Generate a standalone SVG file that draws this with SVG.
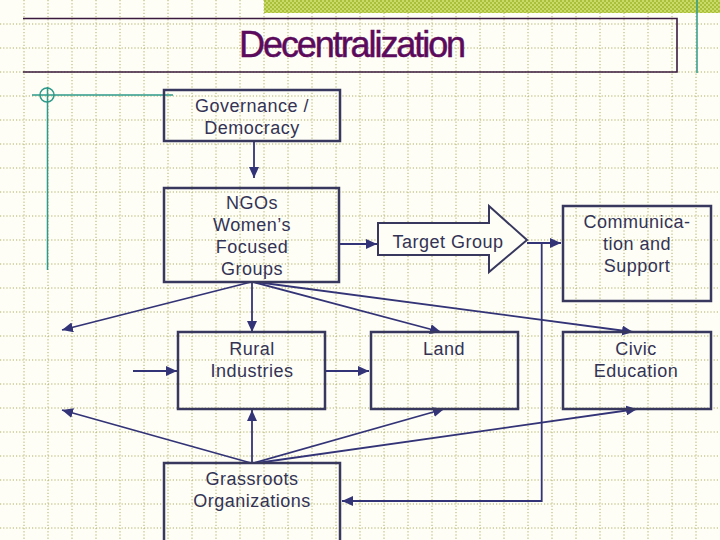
<svg xmlns="http://www.w3.org/2000/svg" width="720" height="540" viewBox="0 0 720 540">
<defs>
<pattern id="check" width="4" height="4" patternUnits="userSpaceOnUse">
<rect width="4" height="4" fill="#c9d96a"/>
<rect width="2" height="2" fill="#a9c038"/>
<rect x="2" y="2" width="2" height="2" fill="#a9c038"/>
</pattern>
<marker id="ah" markerUnits="userSpaceOnUse" markerWidth="11" markerHeight="10" refX="11" refY="5" orient="auto">
<path d="M0,0 L11,5 L0,10 z" fill="#333377"/>
</marker>
<style>
.grid{fill:none;stroke:#b0ae66;stroke-width:1;stroke-dasharray:1.2 2}
.box{fill:none;stroke:#38385f;stroke-width:2.5}
.lbl{font-family:"Liberation Sans",Arial,sans-serif;font-size:18px;letter-spacing:0.5px;fill:#333355;text-anchor:middle}
.con{fill:none;stroke:#333377;stroke-width:1.8}
.teal{fill:none;stroke:#2e9a8a;stroke-width:1.5}
</style>
</defs>
<rect width="720" height="540" fill="#fefef6"/>
<path class="grid" d="M24 0V540M48 0V540M72 0V540M96 0V540M120 0V540M144 0V540M168 0V540M192 0V540M216 0V540M240 0V540M264 0V540M288 0V540M312 0V540M336 0V540M360 0V540M384 0V540M408 0V540M432 0V540M456 0V540M480 0V540M504 0V540M528 0V540M552 0V540M576 0V540M600 0V540M624 0V540M648 0V540M672 0V540M696 0V540M0 24H720M0 48H720M0 72H720M0 96H720M0 120H720M0 144H720M0 168H720M0 192H720M0 216H720M0 240H720M0 264H720M0 288H720M0 312H720M0 336H720M0 360H720M0 384H720M0 408H720M0 432H720M0 456H720M0 480H720M0 504H720M0 528H720"/>
<rect x="264" y="0" width="456" height="13" fill="url(#check)"/>
<g id="title">
<path d="M23 18.5H677V72H23" fill="none" stroke="#3a1a3e" stroke-width="1.6"/>
<text x="239" y="57" font-family="'Liberation Sans',Arial,sans-serif" font-size="36" fill="#5c0a5c" stroke="#5c0a5c" stroke-width="0.5" letter-spacing="-2.1" textLength="225" lengthAdjust="spacing">Decentralization</text>
</g>
<g id="decor">
<path class="teal" d="M697 0V73"/>
<path class="teal" d="M32 95H173M47.5 87V270"/>
<circle cx="47" cy="95" r="7" class="teal" stroke-width="1.2"/>
</g>
<g id="connectors">
<path class="con" d="M254 141V178" marker-end="url(#ah)"/>
<path class="con" d="M339 244H377" marker-end="url(#ah)"/>
<path class="con" d="M527 243H561" marker-end="url(#ah)"/>
<path class="con" d="M541.7 243V501H342" marker-end="url(#ah)"/>
<path class="con" d="M251 282L62 330" marker-end="url(#ah)"/>
<path class="con" d="M252 282V332" marker-end="url(#ah)"/>
<path class="con" d="M253 282L441 332" marker-end="url(#ah)"/>
<path class="con" d="M256 282L633 332" marker-end="url(#ah)"/>
<path class="con" d="M133 371H177" marker-end="url(#ah)"/>
<path class="con" d="M325 371H369" marker-end="url(#ah)"/>
<path class="con" d="M251 463L62 410" marker-end="url(#ah)"/>
<path class="con" d="M252 463V410" marker-end="url(#ah)"/>
<path class="con" d="M254 463L444 409" marker-end="url(#ah)"/>
<path class="con" d="M257 463L637 409" marker-end="url(#ah)"/>
</g>
<g id="governance">
<rect class="box" x="164" y="90" width="176" height="51"/>
<text class="lbl" x="252" y="112">Governance /</text>
<text class="lbl" x="252" y="134">Democracy</text>
</g>
<g id="ngos">
<rect class="box" x="164" y="188" width="175" height="94"/>
<text class="lbl" x="252" y="209">NGOs</text>
<text class="lbl" x="252" y="231">Women’s</text>
<text class="lbl" x="252" y="253">Focused</text>
<text class="lbl" x="252" y="275">Groups</text>
</g>
<g id="target">
<polygon points="378,223 489,223 489,206 527,240 489,272 489,255 378,255" fill="#fefef6" stroke="#38385f" stroke-width="2"/>
<text class="lbl" x="448" y="248">Target Group</text>
</g>
<g id="communication">
<rect class="box" x="563" y="206" width="148" height="95" stroke-width="2.2"/>
<text class="lbl" x="637" y="228">Communica-</text>
<text class="lbl" x="637" y="250">tion and</text>
<text class="lbl" x="637" y="272">Support</text>
</g>
<g id="rural">
<rect class="box" x="178" y="332" width="147" height="77"/>
<text class="lbl" x="252" y="355">Rural</text>
<text class="lbl" x="252" y="377">Industries</text>
</g>
<g id="land">
<rect class="box" x="371" y="332" width="147" height="77" stroke-width="2.2"/>
<text class="lbl" x="444" y="355">Land</text>
</g>
<g id="civic">
<rect class="box" x="563" y="332" width="148" height="77" stroke-width="2.2"/>
<text class="lbl" x="636" y="355">Civic</text>
<text class="lbl" x="636" y="377">Education</text>
</g>
<g id="grassroots">
<rect class="box" x="164" y="463" width="176" height="80"/>
<text class="lbl" x="252" y="485">Grassroots</text>
<text class="lbl" x="252" y="507">Organizations</text>
</g>
</svg>
